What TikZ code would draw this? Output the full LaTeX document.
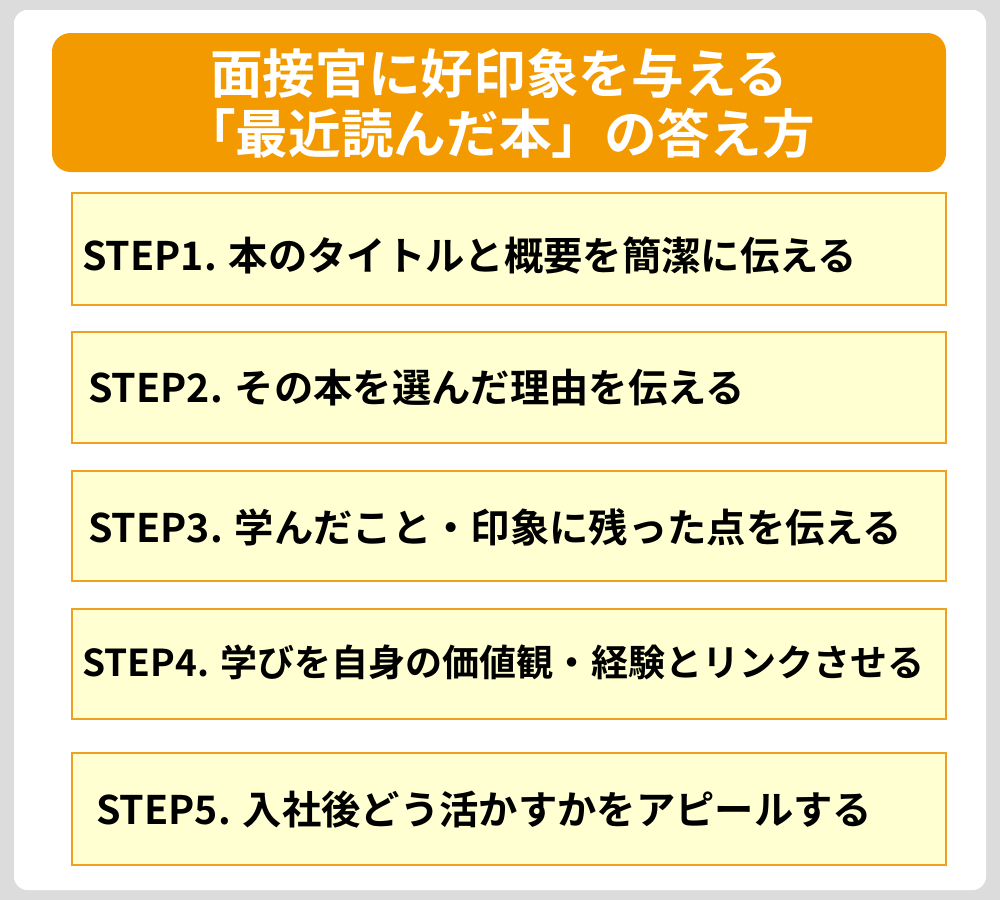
\documentclass[tikz,border=0pt]{standalone}
\usepackage{fontspec}
\newfontfamily\cjk{Noto Sans CJK JP Bold}
\definecolor{bggray}{HTML}{DCDCDC}
\definecolor{hdr}{HTML}{F29A00}
\definecolor{boxfill}{HTML}{FFFFD2}
\definecolor{boxline}{HTML}{F0A020}
\begin{document}
\begin{tikzpicture}[x=0.75pt,y=-0.75pt,
  stepbox/.style={draw=boxline,line width=2pt,fill=boxfill},
  steptext/.style={anchor=west,inner sep=0pt,font=\cjk\fontsize{29.5}{34}\selectfont}]
\useasboundingbox (0,0) rectangle (1000,900);
\fill[bggray] (0,0) rectangle (1000,900);
\fill[white,rounded corners=10pt] (14,10) rectangle (986,890);
\fill[hdr,rounded corners=14pt] (52,33) rectangle (946,172);
\node[white,align=center,font=\cjk\fontsize{39.5}{45}\selectfont] (title) at (499,104) {面接官に好印象を与える\\「最近読んだ本」の答え方};
\draw[stepbox] (72,193) rectangle (946,305);
\draw[stepbox] (72,332) rectangle (946,443);
\draw[stepbox] (72,471) rectangle (946,581);
\draw[stepbox] (72,609) rectangle (946,719);
\draw[stepbox] (72,753) rectangle (946,865);
\node[steptext] (s1) at (82,255) {STEP1. 本のタイトルと概要を簡潔に伝える};
\node[steptext] (s2) at (88,388) {STEP2. その本を選んだ理由を伝える};
\node[steptext] (s3) at (88,527) {STEP3. 学んだこと・印象に残った点を伝える};
\node[steptext,font=\cjk\fontsize{27.8}{34}\selectfont] (s4) at (82,662) {STEP4. 学びを自身の価値観・経験とリンクさせる};
\node[steptext] (s5) at (96,810) {STEP5. 入社後どう活かすかをアピールする};
\end{tikzpicture}
\end{document}
